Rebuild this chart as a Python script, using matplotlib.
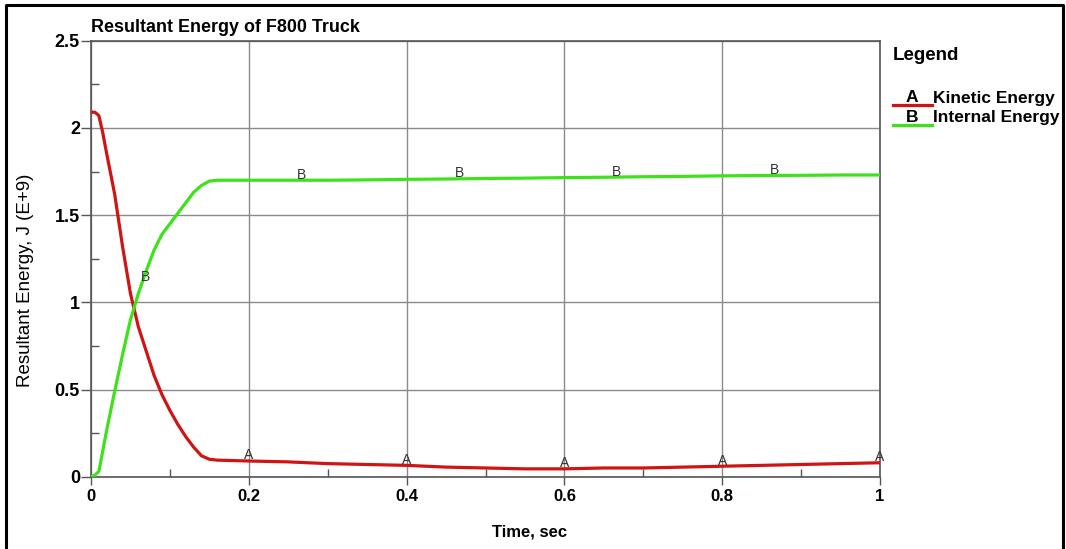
import numpy as np
import matplotlib
matplotlib.use('Agg')
import matplotlib.pyplot as plt
from matplotlib.lines import Line2D
from matplotlib.ticker import FixedLocator

# data (energy in J x 1e9)
time = [0, 0.005, 0.01, 0.015, 0.02, 0.03, 0.04, 0.05, 0.06, 0.07, 0.08, 0.09,
        0.10, 0.11, 0.12, 0.13, 0.14, 0.15, 0.16, 0.2, 0.25, 0.3, 0.35, 0.4,
        0.45, 0.5, 0.55, 0.6, 0.65, 0.7, 0.75, 0.8, 0.85, 0.9, 0.95, 1.0]
kinetic = [2.09, 2.09, 2.07, 1.97, 1.85, 1.62, 1.32, 1.05, 0.86, 0.72, 0.58, 0.47,
           0.38, 0.30, 0.23, 0.17, 0.12, 0.10, 0.095, 0.09, 0.085, 0.075, 0.07, 0.065,
           0.055, 0.05, 0.045, 0.045, 0.05, 0.05, 0.055, 0.06, 0.065, 0.07, 0.075, 0.08]
internal = [0, 0.01, 0.03, 0.15, 0.27, 0.49, 0.70, 0.90, 1.05, 1.18, 1.30, 1.39,
            1.45, 1.51, 1.57, 1.63, 1.67, 1.695, 1.70, 1.70, 1.70, 1.70, 1.702, 1.705,
            1.707, 1.71, 1.712, 1.715, 1.717, 1.72, 1.722, 1.725, 1.727, 1.728, 1.73, 1.73]
a_marks = [0.2, 0.4, 0.6, 0.8, 1.0]
b_marks = [0.065, 0.263, 0.463, 0.663, 0.863]
xticks = [0, 0.2, 0.4, 0.6, 0.8, 1.0]
xlabels = ['0', '0.2', '0.4', '0.6', '0.8', '1']
yticks = [0, 0.5, 1.0, 1.5, 2.0, 2.5]
ylabels = ['0', '0.5', '1', '1.5', '2', '2.5']
series_names = ['Kinetic Energy', 'Internal Energy']

RED = '#d01414'
GREEN = '#3ee21a'

plt.rcParams['font.family'] = ['Liberation Sans', 'DejaVu Sans']

fig = plt.figure(figsize=(10.66, 5.49), dpi=100)
ax = fig.add_axes([91/1066, 1-476.7/549, (880-91)/1066, (476.7-40.7)/549])

ax.plot(time, kinetic, color=RED, lw=2.3, zorder=3)
ax.plot(time, internal, color=GREEN, lw=2.3, zorder=3)

for t in a_marks:
    ax.annotate('A', (t, np.interp(t, time, kinetic)), xytext=(0, 4), textcoords='offset points',
                ha='center', va='center', fontsize=10, color='#333333', zorder=4,
                annotation_clip=False)
for t in b_marks:
    ax.annotate('B', (t, np.interp(t, time, internal)), xytext=(2, 4), textcoords='offset points',
                ha='center', va='center', fontsize=10, color='#333333', zorder=4)

ax.set_xlim(0, 1)
ax.set_ylim(0, 2.5)
ax.xaxis.set_major_locator(FixedLocator(xticks))
ax.yaxis.set_major_locator(FixedLocator(yticks))
ax.xaxis.set_minor_locator(FixedLocator([0.1, 0.3, 0.5, 0.7, 0.9]))
ax.yaxis.set_minor_locator(FixedLocator([0.25, 0.75, 1.25, 1.75, 2.25]))
ax.set_xticklabels(xlabels)
ax.set_yticklabels(ylabels)
ax.grid(True, which='major', color='#8a8a8a', lw=1)
ax.tick_params(which='major', direction='out', width=1, color='#555555')
ax.tick_params(axis='y', which='major', length=7, labelsize=13, pad=1)
ax.tick_params(axis='x', which='major', length=6, labelsize=12, pad=3)
ax.tick_params(which='minor', direction='in', length=6, width=1, color='#555555')
for lab in ax.get_yticklabels() + ax.get_xticklabels():
    lab.set_fontweight('bold')
for s in ax.spines.values():
    s.set_color('#555555')
    s.set_linewidth(1.2)

fig.text(530/1066, 1-532/549, 'Time, sec', ha='center', va='center', fontsize=12, fontweight='bold')
fig.text(26/1066, 1-280/549, 'Resultant Energy, J (E+9)', rotation=90, ha='center', va='center',
         fontsize=13.5)
fig.text(91/1066, 1-27/549, 'Resultant Energy of F800 Truck', ha='left', va='center',
         fontsize=12.9, fontweight='bold')

# legend drawn by hand, like the original tool
fig.text(893/1066, 1-55/549, 'Legend', ha='left', va='center', fontsize=13.5, fontweight='bold')
for i, (name, col, letter) in enumerate(zip(series_names, [RED, GREEN], ['A', 'B'])):
    yl = 1 - (105 + 20*i)/549
    fig.add_artist(Line2D([893/1066, 932/1066], [yl, yl], color=col, lw=2.3))
    fig.text(912/1066, 1-(98 + 20*i)/549, letter, ha='center', va='center', fontsize=12.5, fontweight='bold')
    fig.text(933/1066, 1-(98 + 20*i)/549, name, ha='left', va='center', fontsize=12.5, fontweight='bold')

# outer frame (left, top, right)
fx = [6/1066, 6/1066, 1063/1066, 1063/1066]
fy = [0, 1-5/549, 1-5/549, 0]
fig.add_artist(Line2D(fx, fy, color='black', lw=2.2))

fig.savefig('out.png', dpi=100)
